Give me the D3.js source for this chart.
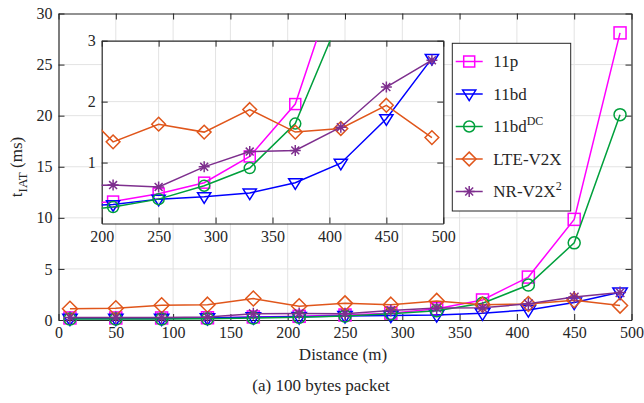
<!DOCTYPE html>
<html>
<head>
<meta charset="utf-8">
<script src="https://cdn.jsdelivr.net/npm/d3@7"></script>
<style>
  body { margin: 0; background: #fff; }
  svg text { font-family: "Liberation Serif", "Times New Roman", serif !important; fill: #262626; }
</style>
</head>
<body>
<svg width="644" height="403"></svg>
<script>
// distances (m)
const distances = [10, 50, 90, 130, 170, 210, 250, 290, 330, 370, 410, 450, 490];

// t_IAT (ms) per technology
const p11 = [0.2, 0.2, 0.2, 0.22, 0.3, 0.36, 0.49, 0.67, 1.10, 1.96, 4.2, 9.85, 28.1];
const bd11 = [0.15, 0.15, 0.15, 0.2, 0.28, 0.31, 0.40, 0.44, 0.50, 0.67, 0.99, 1.72, 2.71];
const bdDC = [0.1, 0.1, 0.1, 0.12, 0.2, 0.27, 0.40, 0.62, 0.91, 1.64, 3.42, 7.55, 20.1];
const lte = [1.1, 1.15, 1.45, 1.5, 2.1, 1.34, 1.63, 1.50, 1.87, 1.50, 1.56, 1.94, 1.41];
const nr = [0.25, 0.25, 0.25, 0.3, 0.62, 0.63, 0.60, 0.93, 1.18, 1.20, 1.58, 2.24, 2.68];

const xTicks = [0, 50, 100, 150, 200, 250, 300, 350, 400, 450, 500];
const yTicks = [0, 5, 10, 15, 20, 25, 30];
const xTicksInset = [200, 250, 300, 350, 400, 450, 500];
const yTicksInset = [1, 2, 3];

const series = [
  { name: '11p', sup: '', values: p11, color: '#ff00ff', marker: 'square' },
  { name: '11bd', sup: '', values: bd11, color: '#0000ff', marker: 'triangle' },
  { name: '11bd', sup: 'DC', values: bdDC, color: '#00a03c', marker: 'circle' },
  { name: 'LTE-V2X', sup: '', values: lte, color: '#e0561b', marker: 'diamond' },
  { name: 'NR-V2X', sup: '2', values: nr, color: '#7e2f8e', marker: 'star' },
];

const svg = d3.select('svg');
const axisColor = '#262626';
const gridColor = '#e3e3e3';

function drawMarker(g, type, cx, cy, color, s) {
  const m = g.append('g').attr('transform', `translate(${cx},${cy})`)
    .attr('fill', 'none').attr('stroke', color).attr('stroke-width', 1.5);
  if (type === 'square') {
    m.append('rect').attr('x', -s).attr('y', -s).attr('width', 2 * s).attr('height', 2 * s);
  } else if (type === 'triangle') {
    const r = s * 1.2;
    m.append('path').attr('d', `M${-r},${-r * 0.6}L${r},${-r * 0.6}L0,${r}Z`);
  } else if (type === 'circle') {
    m.append('circle').attr('r', s);
  } else if (type === 'diamond') {
    const r = s * 1.25;
    m.append('path').attr('d', `M0,${-r}L${r},0L0,${r}L${-r},0Z`);
  } else if (type === 'star') {
    const d = s * 0.72;
    m.append('path').attr('d', `M${-s},0L${s},0M0,${-s}L0,${s}M${-d},${-d}L${d},${d}M${-d},${d}L${d},${-d}`);
  }
}

function drawPanel(g, x, y, xt, yt, clip, ms, fontSize, xGap, yGap) {
  const [x0, x1] = x.range();
  const [y0, y1] = y.range();
  g.append('rect').attr('x', x0).attr('y', y1).attr('width', x1 - x0).attr('height', y0 - y1).attr('fill', '#fff');
  // grid
  g.append('g').selectAll('line').data(xt.slice(1, -1)).join('line')
    .attr('x1', d => x(d)).attr('x2', d => x(d)).attr('y1', y0).attr('y2', y1)
    .attr('stroke', gridColor).attr('stroke-width', 1);
  g.append('g').selectAll('line').data(yt.filter(d => y(d) < y0 - 1 && y(d) > y1 + 1)).join('line')
    .attr('y1', d => y(d)).attr('y2', d => y(d)).attr('x1', x0).attr('x2', x1)
    .attr('stroke', gridColor).attr('stroke-width', 1);

  // axes with inward ticks
  const fmt = d3.format('d');
  const ax = g.append('g').attr('transform', `translate(0,${y0})`)
    .call(d3.axisBottom(x).tickValues(xt).tickFormat(fmt).tickSize(-6).tickPadding(xGap).tickSizeOuter(0));
  const ay = g.append('g').attr('transform', `translate(${x0},0)`)
    .call(d3.axisLeft(y).tickValues(yt).tickFormat(fmt).tickSize(-6).tickPadding(yGap).tickSizeOuter(0));
  const axt = g.append('g').attr('transform', `translate(0,${y1})`)
    .call(d3.axisTop(x).tickValues(xt).tickSize(-6).tickFormat('').tickSizeOuter(0));
  const ayr = g.append('g').attr('transform', `translate(${x1},0)`)
    .call(d3.axisRight(y).tickValues(yt).tickSize(-6).tickFormat('').tickSizeOuter(0));
  [ax, ay, axt, ayr].forEach(a => {
    a.attr('font-family', null).attr('font-size', null);
    a.select('.domain').attr('stroke', axisColor).attr('stroke-width', 1.2);
    a.selectAll('.tick line').attr('stroke', axisColor).attr('stroke-width', 1);
    a.selectAll('text').style('font-size', fontSize + 'px').attr('fill', axisColor);
  });

  const plot = g.append('g');
  if (clip) {
    const id = 'clip' + Math.round(x0);
    g.append('clipPath').attr('id', id).append('rect')
      .attr('x', x0).attr('y', y1).attr('width', x1 - x0).attr('height', y0 - y1);
    plot.attr('clip-path', `url(#${id})`);
  }
  const line = d3.line().x(d => x(d[0])).y(d => y(d[1]));
  series.forEach(s => {
    const pts = distances.map((d, i) => [d, s.values[i]]);
    plot.append('path').datum(pts).attr('d', line)
      .attr('fill', 'none').attr('stroke', s.color).attr('stroke-width', 1.5);
    const dom = x.domain();
    pts.filter(p => p[0] >= dom[0] && p[0] <= dom[1]).forEach(p => {
      drawMarker(plot, s.marker, x(p[0]), y(p[1]), s.color, ms);
    });
  });
}

// main chart
const x = d3.scaleLinear().domain([0, 500]).range([58.5, 631.5]);
const y = d3.scaleLinear().domain([0, 30]).range([320, 13.5]);
drawPanel(svg.append('g'), x, y, xTicks, yTicks, false, 6, 16, 7, 6);

// inset
const xi = d3.scaleLinear().domain([200, 500]).range([101.7, 443.3]);
const yi = d3.scaleLinear().domain([0, 3]).range([223.5, 40.7]);
drawPanel(svg.append('g'), xi, yi, xTicksInset, yTicksInset, true, 5.5, 16, 7, 6);

// legend
const lg = svg.append('g');
lg.append('rect').attr('x', 452.3).attr('y', 43.3).attr('width', 118.4).attr('height', 167.7)
  .attr('fill', '#fff').attr('stroke', axisColor).attr('stroke-width', 1);
series.forEach((s, i) => {
  const cy = 61.5 + i * 32.5;
  lg.append('line').attr('x1', 455.7).attr('x2', 482.7).attr('y1', cy).attr('y2', cy)
    .attr('stroke', s.color).attr('stroke-width', 1.5);
  drawMarker(lg, s.marker, 469.2, cy, s.color, 5.5);
  const t = lg.append('text').attr('x', 493.3).attr('y', cy + 5.5).style('font-size', '17px');
  t.append('tspan').text(s.name);
  if (s.sup) t.append('tspan').attr('dy', -7).style('font-size', '12px').text(s.sup);
});

// axis labels
svg.append('text').attr('x', 343).attr('y', 360).attr('text-anchor', 'middle')
  .style('font-size', '17px').text('Distance (m)');
const yl = svg.append('text').attr('transform', 'translate(22,167) rotate(-90)')
  .attr('text-anchor', 'middle').style('font-size', '17px');
yl.append('tspan').text('t');
yl.append('tspan').attr('dy', 5).style('font-size', '13px').text('IAT');
yl.append('tspan').attr('dy', -5).text(' (ms)');

svg.append('text').attr('x', 321).attr('y', 391).attr('text-anchor', 'middle')
  .style('font-size', '17px').text('(a)  100 bytes packet');
</script>
</body>
</html>
